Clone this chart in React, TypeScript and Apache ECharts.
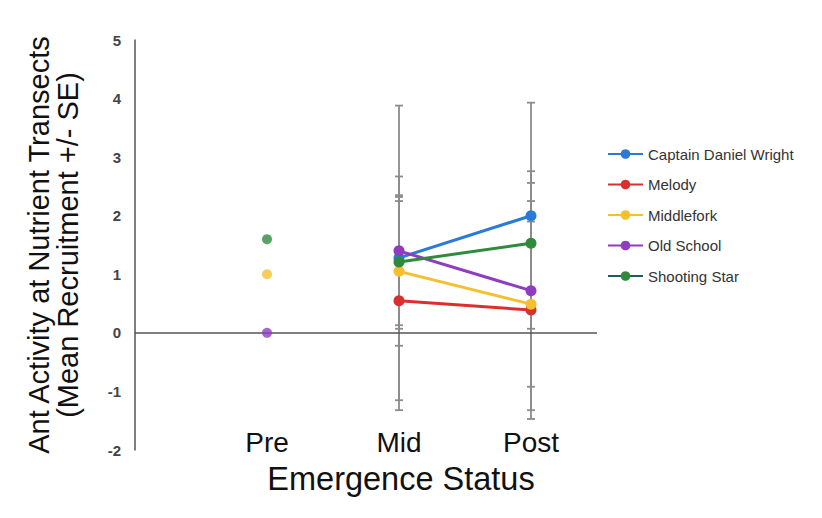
import React, { useEffect, useRef } from "react";
import * as echarts from "echarts";

const categories = ["Pre", "Mid", "Post"];
const siteNames = ["Captain Daniel Wright", "Melody", "Middlefork", "Old School", "Shooting Star"];
const siteColors = ["#2b7bd6", "#d9302f", "#f5bf30", "#8f3cc0", "#2e8b3c"];
const preValues: (number | null)[] = [null, null, 1.0, 0.0, 1.6];
const midValues = [1.28, 0.55, 1.05, 1.4, 1.21];
const postValues = [2.0, 0.39, 0.49, 0.72, 1.53];
const midSE = [2.6, 1.7, 1.27, 1.27, 1.14];
const postSE = [1.93, 1.86, 1.41, 2.04, 1.03];
const yTicks = { min: -2, max: 5, interval: 1 };

const FONT = "'Liberation Sans', Arial, sans-serif";

export default function App() {
  const ref = useRef<HTMLDivElement>(null);
  useEffect(() => {
    document.body.style.margin = "0";
    const chart = echarts.init(ref.current!, null, { renderer: "svg" });

    const errData: number[][] = [];
    siteNames.forEach((_, i) => {
      errData.push([2, midValues[i] - midSE[i], midValues[i] + midSE[i]]);
      errData.push([3, postValues[i] - postSE[i], postValues[i] + postSE[i]]);
    });

    const preData: any[] = [];
    siteNames.forEach((_, i) => {
      const v = preValues[i];
      if (v !== null) preData.push({ value: [1, v], itemStyle: { color: siteColors[i] } });
    });

    const lineSeries = siteNames.map((name, i) => ({
      name,
      type: "line",
      data: [
        [2, midValues[i]],
        [3, postValues[i]],
      ],
      symbol: "circle",
      symbolSize: 11,
      z: 5,
      itemStyle: { color: siteColors[i] },
      lineStyle: { color: siteColors[i], width: 3 },
    }));

    chart.setOption({
      animation: false,
      textStyle: { fontFamily: FONT },
      grid: { left: 135, right: 225, top: 40, bottom: 68 },
      xAxis: {
        type: "value",
        min: 0,
        max: 3.5,
        interval: 1,
        axisLine: { show: false, onZero: false },
        axisTick: { show: false },
        splitLine: { show: false },
        axisLabel: {
          fontSize: 28,
          color: "#111",
          fontFamily: FONT,
          margin: -22,
          showMaxLabel: false,
          formatter: (v: number) => (Number.isInteger(v) && v >= 1 ? categories[v - 1] ?? "" : ""),
        },
      },
      yAxis: {
        type: "value",
        min: yTicks.min,
        max: yTicks.max,
        interval: yTicks.interval,
        axisLine: { show: true, onZero: false, lineStyle: { color: "#555", width: 1.5 } },
        axisTick: { show: false },
        splitLine: { show: false },
        axisLabel: { fontSize: 15, fontWeight: "bold", color: "#444", margin: 14, fontFamily: FONT },
        name: "Ant Activity at Nutrient Transects\n(Mean Recruitment +/- SE)",
        nameLocation: "middle",
        nameGap: 53,
        nameTextStyle: { fontSize: 29, lineHeight: 29, color: "#111", fontFamily: FONT },
      },
      legend: {
        orient: "vertical",
        left: 602,
        top: 141,
        itemWidth: 35,
        itemHeight: 12,
        itemGap: 14.5,
        textStyle: { fontSize: 15, color: "#333", fontFamily: FONT, lineHeight: 16 },
        data: siteNames.map((name, i) =>
          i === 4 ? { name, lineStyle: { color: "#1f5a64" } } : { name }
        ),
      },
      graphic: [
        {
          type: "text",
          x: 401,
          y: 479,
          style: {
            text: "Emergence Status",
            fontSize: 32.5,
            fontFamily: FONT,
            fill: "#111",
            textAlign: "center",
            textVerticalAlign: "middle",
          },
        },
      ],
      series: [
        {
          type: "custom",
          z: 1,
          encode: { x: 0, y: [1, 2] },
          data: errData,
          renderItem: (params: any, api: any) => {
            const x = api.value(0);
            const lo = api.coord([x, api.value(1)]);
            const hi = api.coord([x, api.value(2)]);
            const cap = 4;
            const st = { stroke: "#8c8c8c", lineWidth: 1.8 };
            return {
              type: "group",
              children: [
                { type: "line", shape: { x1: lo[0], y1: lo[1], x2: hi[0], y2: hi[1] }, style: st },
                { type: "line", shape: { x1: lo[0] - cap, y1: lo[1], x2: lo[0] + cap, y2: lo[1] }, style: st },
                { type: "line", shape: { x1: hi[0] - cap, y1: hi[1], x2: hi[0] + cap, y2: hi[1] }, style: st },
              ],
            };
          },
          markLine: {
            silent: true,
            symbol: "none",
            label: { show: false },
            lineStyle: { color: "#555", width: 1.5, type: "solid" },
            data: [{ yAxis: 0 }],
          },
        },
        {
          type: "scatter",
          symbolSize: 10,
          z: 5,
          data: preData,
        },
        ...lineSeries,
      ],
    });
    return () => chart.dispose();
  }, []);
  return <div ref={ref} style={{ width: 822, height: 518 }} />;
}
